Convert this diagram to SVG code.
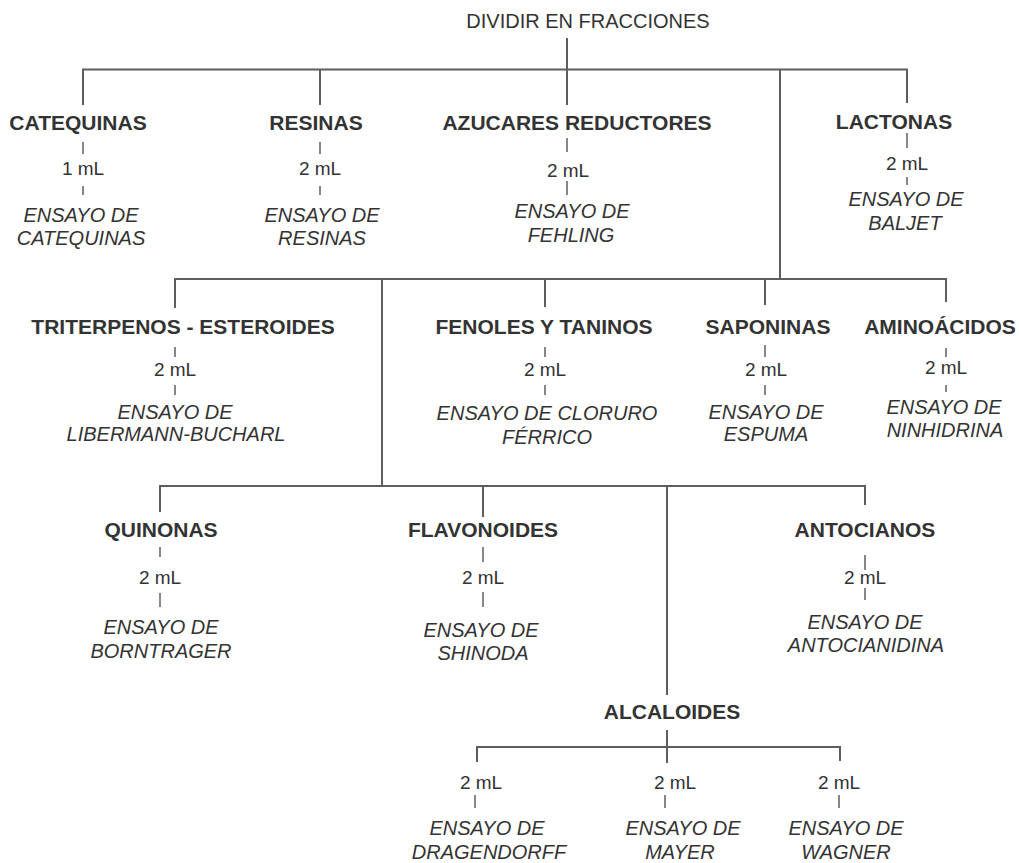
<svg xmlns="http://www.w3.org/2000/svg" width="1019" height="863" viewBox="0 0 1019 863">
<style>
text{font-family:"Liberation Sans",Arial,sans-serif;fill:#333;text-anchor:middle}
.t{font-weight:bold;font-size:21px}
.r{font-size:20px}
.m{font-size:19px}
.e{font-style:italic;font-size:20px}
.c line{stroke:#5e5e5e;stroke-width:2}
.c line.k{stroke-width:1.5}
</style>
<rect width="1019" height="863" fill="#fff"/>
<g id="connectors" class="c">
<line x1="567" y1="38" x2="567" y2="105"/>
<line x1="82" y1="69.5" x2="908" y2="69.5"/>
<line x1="83" y1="69" x2="83" y2="105"/>
<line x1="320" y1="69" x2="320" y2="105"/>
<line x1="780" y1="69" x2="780" y2="279"/>
<line x1="907" y1="69" x2="907" y2="103"/>
<line x1="174" y1="279" x2="947" y2="279"/>
<line x1="175" y1="279" x2="175" y2="308"/>
<line x1="382" y1="279" x2="382" y2="486"/>
<line x1="545" y1="279" x2="545" y2="307"/>
<line x1="765" y1="279" x2="765" y2="305"/>
<line x1="946" y1="279" x2="946" y2="302"/>
<line x1="159" y1="486" x2="866" y2="486"/>
<line x1="160" y1="486" x2="160" y2="512"/>
<line x1="483" y1="486" x2="483" y2="517"/>
<line x1="667" y1="486" x2="667" y2="695"/>
<line x1="865" y1="486" x2="865" y2="505"/>
<line x1="667" y1="730" x2="667" y2="763"/>
<line x1="476" y1="747" x2="841" y2="747"/>
<line x1="477" y1="747" x2="477" y2="762"/>
<line x1="840" y1="747" x2="840" y2="761"/>
<line class="k" x1="83" y1="142" x2="83" y2="154"/>
<line class="k" x1="83" y1="186" x2="83" y2="195"/>
<line class="k" x1="320" y1="142" x2="320" y2="154"/>
<line class="k" x1="320" y1="186" x2="320" y2="195"/>
<line class="k" x1="567" y1="138" x2="567" y2="152"/>
<line class="k" x1="567" y1="181" x2="567" y2="195"/>
<line class="k" x1="907" y1="133" x2="907" y2="148"/>
<line class="k" x1="907" y1="177" x2="907" y2="185"/>
<line class="k" x1="175" y1="347" x2="175" y2="357"/>
<line class="k" x1="175" y1="385" x2="175" y2="395"/>
<line class="k" x1="545" y1="347" x2="545" y2="357"/>
<line class="k" x1="545" y1="385" x2="545" y2="395"/>
<line class="k" x1="765" y1="345" x2="765" y2="357"/>
<line class="k" x1="765" y1="385" x2="765" y2="395"/>
<line class="k" x1="946" y1="348" x2="946" y2="357"/>
<line class="k" x1="946" y1="385" x2="946" y2="392"/>
<line class="k" x1="160" y1="547" x2="160" y2="557"/>
<line class="k" x1="160" y1="593" x2="160" y2="607"/>
<line class="k" x1="483" y1="547" x2="483" y2="562"/>
<line class="k" x1="483" y1="592" x2="483" y2="607"/>
<line class="k" x1="865" y1="555" x2="865" y2="570"/>
<line class="k" x1="865" y1="588" x2="865" y2="600"/>
<line class="k" x1="475" y1="795" x2="475" y2="808"/>
<line class="k" x1="665" y1="795" x2="665" y2="808"/>
<line class="k" x1="839" y1="795" x2="839" y2="808"/>
</g>
<g id="root"><text class="r" x="588" y="28">DIVIDIR EN FRACCIONES</text></g>
<g id="catequinas">
<text class="t" x="78" y="130">CATEQUINAS</text>
<text class="m" x="83" y="175">1 mL</text>
<text class="e" x="81" y="222">ENSAYO DE</text>
<text class="e" x="81" y="245">CATEQUINAS</text>
</g>
<g id="resinas">
<text class="t" x="316" y="130">RESINAS</text>
<text class="m" x="320" y="175">2 mL</text>
<text class="e" x="322" y="222">ENSAYO DE</text>
<text class="e" x="322" y="245">RESINAS</text>
</g>
<g id="azucares">
<text class="t" x="577" y="130">AZUCARES REDUCTORES</text>
<text class="m" x="568" y="177">2 mL</text>
<text class="e" x="572" y="218">ENSAYO DE</text>
<text class="e" x="571" y="242">FEHLING</text>
</g>
<g id="lactonas">
<text class="t" x="894" y="129">LACTONAS</text>
<text class="m" x="907" y="170">2 mL</text>
<text class="e" x="906" y="206">ENSAYO DE</text>
<text class="e" x="905" y="230">BALJET</text>
</g>
<g id="triterpenos">
<text class="t" x="183" y="334">TRITERPENOS - ESTEROIDES</text>
<text class="m" x="175" y="376">2 mL</text>
<text class="e" x="175" y="419">ENSAYO DE</text>
<text class="e" x="176" y="441">LIBERMANN-BUCHARL</text>
</g>
<g id="fenoles">
<text class="t" x="544" y="334">FENOLES Y TANINOS</text>
<text class="m" x="545" y="376">2 mL</text>
<text class="e" x="547" y="420">ENSAYO DE CLORURO</text>
<text class="e" x="547" y="444">FÉRRICO</text>
</g>
<g id="saponinas">
<text class="t" x="768" y="334">SAPONINAS</text>
<text class="m" x="766" y="376">2 mL</text>
<text class="e" x="766" y="419">ENSAYO DE</text>
<text class="e" x="766" y="441">ESPUMA</text>
</g>
<g id="aminoacidos">
<text class="t" x="940" y="334">AMINOÁCIDOS</text>
<text class="m" x="946" y="374">2 mL</text>
<text class="e" x="944" y="414">ENSAYO DE</text>
<text class="e" x="945" y="437">NINHIDRINA</text>
</g>
<g id="quinonas">
<text class="t" x="161" y="537">QUINONAS</text>
<text class="m" x="160" y="584">2 mL</text>
<text class="e" x="161" y="634">ENSAYO DE</text>
<text class="e" x="161" y="658">BORNTRAGER</text>
</g>
<g id="flavonoides">
<text class="t" x="483" y="537">FLAVONOIDES</text>
<text class="m" x="483" y="584">2 mL</text>
<text class="e" x="481" y="637">ENSAYO DE</text>
<text class="e" x="483" y="660">SHINODA</text>
</g>
<g id="antocianos">
<text class="t" x="865" y="537">ANTOCIANOS</text>
<text class="m" x="865" y="584">2 mL</text>
<text class="e" x="865" y="629">ENSAYO DE</text>
<text class="e" x="866" y="652">ANTOCIANIDINA</text>
</g>
<g id="alcaloides">
<text class="t" x="672" y="719">ALCALOIDES</text>
</g>
<g id="dragendorff">
<text class="m" x="481" y="789">2 mL</text>
<text class="e" x="487" y="835">ENSAYO DE</text>
<text class="e" x="489" y="859">DRAGENDORFF</text>
</g>
<g id="mayer">
<text class="m" x="675" y="789">2 mL</text>
<text class="e" x="683" y="835">ENSAYO DE</text>
<text class="e" x="680" y="859">MAYER</text>
</g>
<g id="wagner">
<text class="m" x="839" y="789">2 mL</text>
<text class="e" x="846" y="835">ENSAYO DE</text>
<text class="e" x="846" y="859">WAGNER</text>
</g>
</svg>
